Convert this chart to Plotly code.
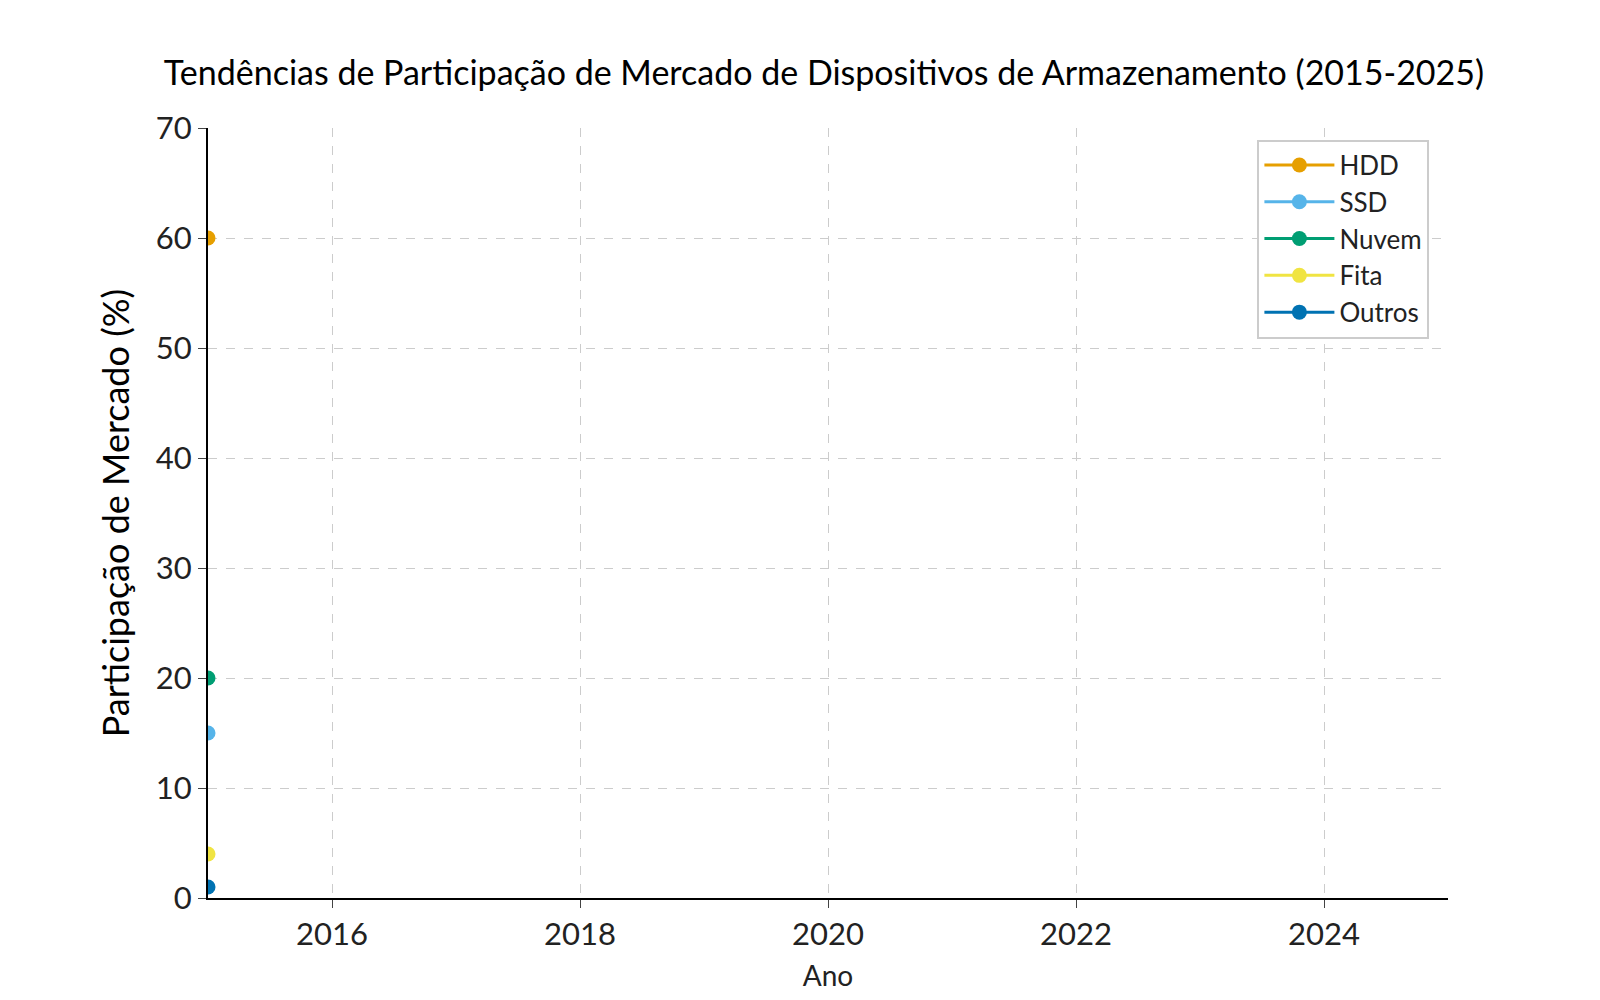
import plotly.graph_objects as go

years = [2015]
series_names = ["HDD", "SSD", "Nuvem", "Fita", "Outros"]
series_values = {
    "HDD": [60],
    "SSD": [15],
    "Nuvem": [20],
    "Fita": [4],
    "Outros": [1],
}
colors = {
    "HDD": "#E69F00",
    "SSD": "#56B4E9",
    "Nuvem": "#009E73",
    "Fita": "#F0E442",
    "Outros": "#0072B2",
}
x_ticks = [2016, 2018, 2020, 2022, 2024]
y_ticks = [0, 10, 20, 30, 40, 50, 60, 70]

fig = go.Figure()
for name in series_names:
    fig.add_trace(go.Scatter(
        x=years, y=series_values[name], name=name,
        mode="lines+markers",
        line=dict(color=colors[name], width=3),
        marker=dict(color=colors[name], size=15),
    ))

fig.update_layout(
    width=1600, height=1000,
    paper_bgcolor="white", plot_bgcolor="white",
    margin=dict(l=200, r=160, t=120, b=110),
    font=dict(family="Lato, DejaVu Sans", color="#222"),
    title=dict(text="Tendências de Participação de Mercado de Dispositivos de Armazenamento (2015-2025)",
               x=0.51, xanchor="center", y=0.935, yanchor="middle",
               font=dict(size=34, color="black")),
    legend=dict(x=0.985, xanchor="right", y=0.985, yanchor="top",
                bordercolor="#ccc", borderwidth=2, bgcolor="white",
                font=dict(size=26), itemwidth=70, tracegroupgap=4),
)
fig.update_xaxes(
    range=[2015, 2025], tickvals=x_ticks, ticks="outside", ticklen=8,
    showline=True, linecolor="black", linewidth=2,
    showgrid=True, gridcolor="#ccc", griddash="dash",
    tickfont=dict(size=31), title=dict(text="Ano", font=dict(size=28)),
    zeroline=False,
)
fig.update_yaxes(
    range=[0, 70], tickvals=y_ticks, ticks="outside", ticklen=8,
    showline=True, linecolor="black", linewidth=2,
    showgrid=True, gridcolor="#ccc", griddash="dash",
    tickfont=dict(size=31), title=dict(text="Participação de Mercado (%)", font=dict(size=36, color="black")),
    zeroline=False,
)

fig.write_html("out.html")
